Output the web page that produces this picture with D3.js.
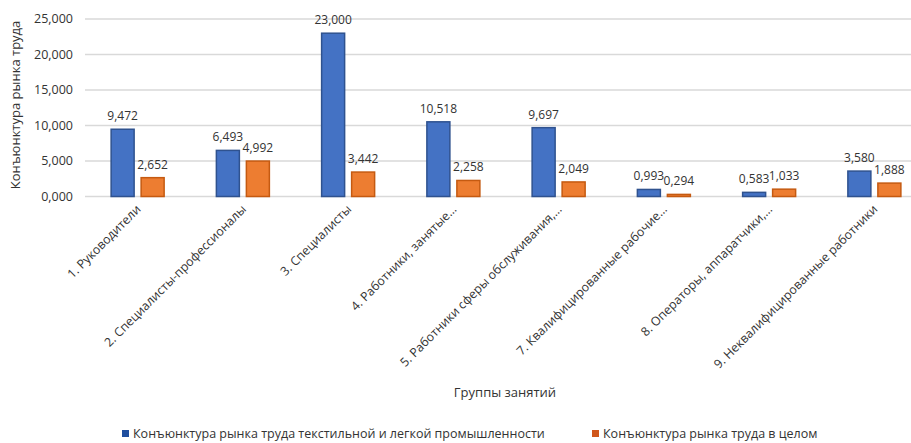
<!DOCTYPE html>
<html><head><meta charset="utf-8">
<script src="https://cdn.jsdelivr.net/npm/d3@7"></script>
<style>
body{margin:0;background:#fff;overflow:hidden}
text{font-family:"Open Sans","Noto Sans",sans-serif;fill:#333}
</style></head><body>
<svg id="c" width="911" height="443"></svg>
<script>
const categories = ["1. Руководители","2. Специалисты-профессионалы","3. Специалисты","4. Работники, занятые…","5. Работники сферы обслуживания,…","7. Квалифицированные рабочие…","8. Операторы, аппаратчики,…","9. Неквалифицированные работники"];
const seriesNames = ["Конъюнктура рынка труда текстильной и легкой промышленности","Конъюнктура рынка труда в целом"];
const textile = [9.472, 6.493, 23.000, 10.518, 9.697, 0.993, 0.583, 3.580];
const overall = [2.652, 4.992, 3.442, 2.258, 2.049, 0.294, 1.033, 1.888];
const yTicks = [0, 5, 10, 15, 20, 25];
const yTickLabels = ["0,000", "5,000", "10,000", "15,000", "20,000", "25,000"];
const colors = ["#4472C4", "#ED7D31"];
const strokes = ["#2F528F", "#C55A11"];
const legendColors = ["#1F4E9F", "#D0571B"];

(function () {
const svg = d3.select("#c");
const fmt = v => d3.format(".3f")(v).replace(".", ",");

const mLeft = 85, mRight = 927, mTop = 19, mBottom = 196.5;
const x = d3.scaleBand().domain(categories).range([mLeft, mRight]);
const y = d3.scaleLinear().domain([0, 25]).range([mBottom, mTop]);
const barW = 23, gap = 7;

svg.append("g").selectAll("line").data(yTicks).join("line")
  .attr("x1", mLeft).attr("x2", 911)
  .attr("y1", d => y(d)).attr("y2", d => y(d))
  .attr("stroke", "#d9d9d9").attr("stroke-width", 1.5);

svg.append("g").selectAll("text").data(yTicks).join("text")
  .attr("x", 73).attr("y", d => y(d)).attr("dy", "0.35em")
  .attr("text-anchor", "end").attr("font-size", 12.5)
  .text((d, i) => yTickLabels[i]);

const series = [textile, overall];
series.forEach((vals, si) => {
  const off = si === 0 ? -(barW + gap / 2) : gap / 2;
  svg.append("g").selectAll("rect").data(vals).join("rect")
    .attr("x", (d, i) => x(categories[i]) + x.bandwidth() / 2 + off)
    .attr("y", d => y(d))
    .attr("width", barW)
    .attr("height", d => y(0) - y(d))
    .attr("fill", colors[si]).attr("stroke", strokes[si]).attr("stroke-width", 1.5);
  svg.append("g").selectAll("text").data(vals).join("text")
    .attr("x", (d, i) => x(categories[i]) + x.bandwidth() / 2 + off + barW / 2)
    .attr("y", d => y(d) - 9)
    .attr("text-anchor", "middle").attr("font-size", 12)
    .text(fmt);
});

svg.append("g").selectAll("text").data(categories).join("text")
  .attr("transform", d => `translate(${x(d) + x.bandwidth() / 2 + 4},210) rotate(-45)`)
  .attr("text-anchor", "end").attr("font-size", 12.3)
  .text(d => d);

svg.append("text").attr("transform", "translate(20,105) rotate(-90)")
  .attr("text-anchor", "middle").attr("font-size", 13).text("Конъюнктура рынка труда");
svg.append("text").attr("x", 505).attr("y", 397)
  .attr("text-anchor", "middle").attr("font-size", 13).text("Группы занятий");

const lx = [122, 592];
seriesNames.forEach((n, i) => {
  svg.append("rect").attr("x", lx[i]).attr("y", 430).attr("width", 7).attr("height", 7).attr("fill", legendColors[i]);
  svg.append("text").attr("x", lx[i] + 11).attr("y", 438).attr("font-size", 12.5).text(n);
});
})();
</script></body></html>
